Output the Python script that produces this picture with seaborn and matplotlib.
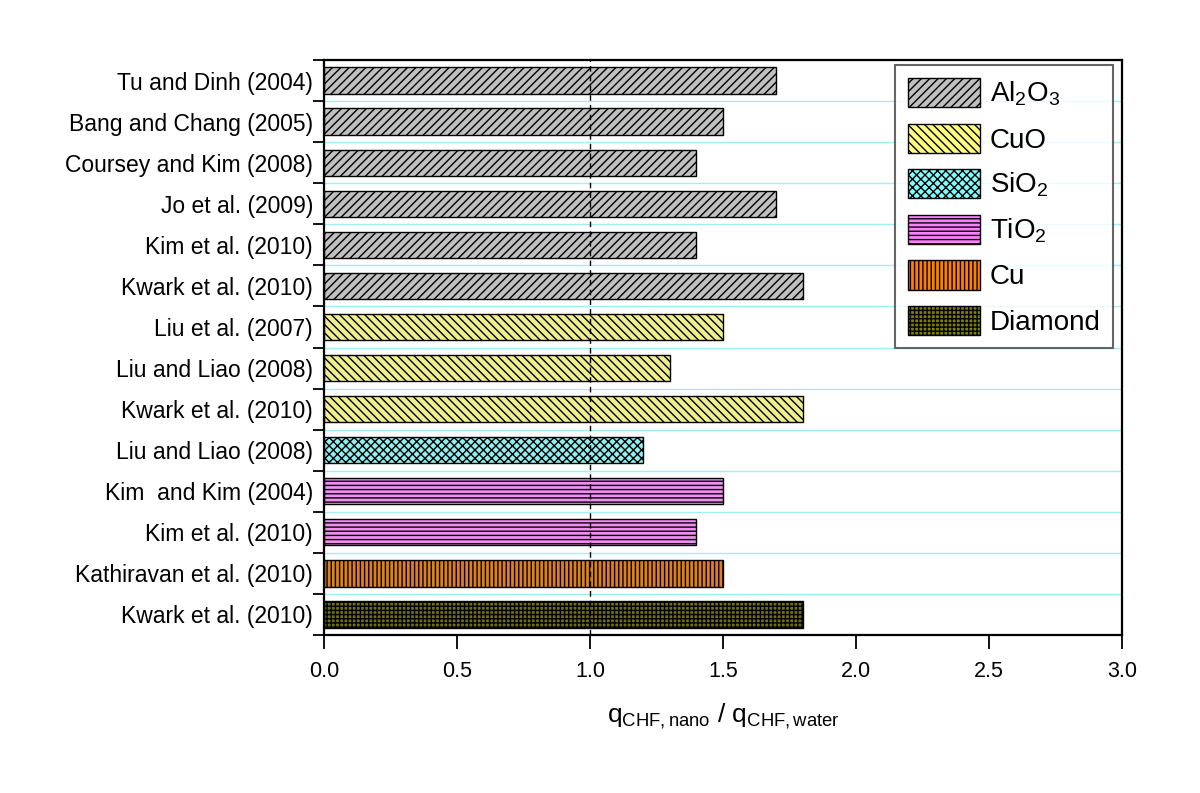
import numpy as np
import pandas as pd
import matplotlib
matplotlib.use("Agg")
import matplotlib.pyplot as plt
from matplotlib.patches import Patch
import seaborn as sns

studies = ["Tu and Dinh (2004)", "Bang and Chang (2005)", "Coursey and Kim (2008)",
           "Jo et al. (2009)", "Kim et al. (2010)", "Kwark et al. (2010)",
           "Liu et al. (2007)", "Liu and Liao (2008)", "Kwark et al. (2010)",
           "Liu and Liao (2008)", "Kim  and Kim (2004)", "Kim et al. (2010)",
           "Kathiravan et al. (2010)", "Kwark et al. (2010)"]
ratios = [1.7, 1.5, 1.4, 1.7, 1.4, 1.8, 1.5, 1.3, 1.8, 1.2, 1.5, 1.4, 1.5, 1.8]
materials = ["Al2O3"] * 6 + ["CuO"] * 3 + ["SiO2"] + ["TiO2"] * 2 + ["Cu", "Diamond"]

mat_order = ["Al2O3", "CuO", "SiO2", "TiO2", "Cu", "Diamond"]
mat_labels = [r"Al$_2$O$_3$", "CuO", r"SiO$_2$", r"TiO$_2$", "Cu", "Diamond"]
mat_colors = ["#c0c0c0", "#ffff80", "#80ffff", "#ff80ff", "#ff8000", "#808000"]
mat_hatches = ["////", "\\\\\\\\", "xxxx", "----", "||||", "++++"]

sns.set_style("white")
plt.rcParams["font.family"] = ["Liberation Sans", "DejaVu Sans"]
plt.rcParams["mathtext.fontset"] = "custom"
plt.rcParams["mathtext.rm"] = "Liberation Sans"
plt.rcParams["mathtext.it"] = "Liberation Sans"
plt.rcParams["mathtext.default"] = "regular"
plt.rcParams["hatch.linewidth"] = 1.0
plt.rcParams["text.color"] = "black"
plt.rcParams["xtick.color"] = "black"
plt.rcParams["ytick.color"] = "black"
plt.rcParams["axes.labelcolor"] = "black"

df = pd.DataFrame({"row": [str(i) for i in range(len(studies))],
                   "ratio": ratios, "material": materials})

fig = plt.figure(figsize=(12, 7.93), dpi=100)
ax = fig.add_axes([0.27, 0.1992, 0.665, 0.7251])

sns.barplot(data=df, x="ratio", y="row", hue="material", hue_order=mat_order,
            palette=mat_colors, dodge=False, width=0.64, orient="h",
            edgecolor="black", linewidth=1.0, legend=False, ax=ax)

# hatch per material
for cont, h in zip(ax.containers, mat_hatches):
    for bar in cont:
        bar.set_hatch(h)

n = len(studies)
ax.set_ylim(n - 0.5, -0.5)
ax.set_xlim(0, 3.0)
ax.set_yticks(range(n))
ax.set_yticklabels(studies, fontsize=16.5)
ax.set_yticks(np.arange(n + 1) - 0.5, minor=True)
ax.tick_params(axis="y", which="major", length=0, pad=8)
ax.tick_params(axis="y", which="minor", left=True, length=8, width=1.3, direction="out")
ax.set_xticks(np.arange(0, 3.01, 0.5))
ax.set_xticklabels([f"{v:.1f}" for v in np.arange(0, 3.01, 0.5)], fontsize=15.5)
ax.tick_params(axis="x", which="major", bottom=True, length=10, width=1.3, direction="out", pad=9)
ax.set_ylabel("")
ax.set_xlabel(r"q$_{CHF,nano}$ / q$_{CHF,water}$", fontsize=19, labelpad=14)

ax.grid(False)
ax.grid(axis="y", which="minor", color="#9ff0f0", linewidth=1.0)
ax.set_axisbelow(True)
ax.axvline(1.0, color="black", linestyle=(0, (4, 3)), linewidth=1.0, zorder=3)

for sp in ax.spines.values():
    sp.set_color("black")
    sp.set_linewidth(1.6)

handles = [Patch(facecolor=c, edgecolor="black", hatch=h, linewidth=1.0)
           for c, h in zip(mat_colors, mat_hatches)]
leg = ax.legend(handles, mat_labels, loc="upper right", bbox_to_anchor=(0.989, 0.991),
                borderaxespad=0, fontsize=20, frameon=True, fancybox=False,
                edgecolor="#404040", handlelength=2.6, handleheight=1.25,
                labelspacing=0.55, handletextpad=0.35, borderpad=0.45)
leg.get_frame().set_linewidth(1.5)

fig.savefig("out.png", dpi=100)
